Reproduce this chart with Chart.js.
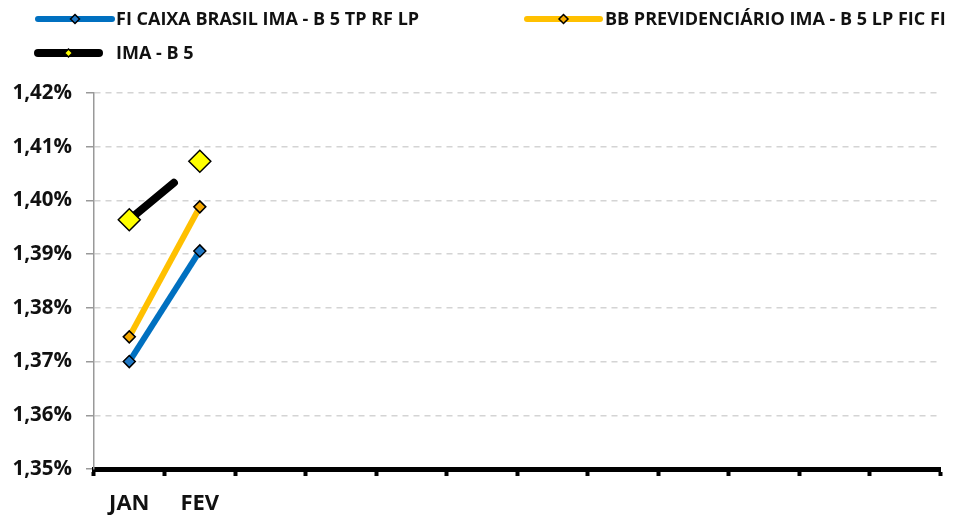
<!DOCTYPE html>
<html>
<head>
<meta charset="utf-8">
<script src="https://cdn.jsdelivr.net/npm/chart.js@4"></script>
<style>
  html, body { margin: 0; padding: 0; background: #fff; }
  #wrap { width: 953px; height: 515px; }
</style>
</head>
<body>
<div id="wrap"><canvas id="c"></canvas></div>
<script>
const months = ["JAN", "FEV", "", "", "", "", "", "", "", "", "", ""];
const caixa = [1.3700, 1.3906, null, null, null, null, null, null, null, null, null, null];
const bbPrev = [1.3746, 1.3988, null, null, null, null, null, null, null, null, null, null];
const imaB5 = [1.3964, 1.4073, null, null, null, null, null, null, null, null, null, null];
const yTicks = [1.35, 1.36, 1.37, 1.38, 1.39, 1.40, 1.41, 1.42];

const FONT = "'Open Sans'";

// legend drawn by hand: line with a diamond in the middle, like the spreadsheet one
const legendItems = [
  { ds: 0, x1: 38, x2: 112, y: 19, w: 6, r: 4.5, tx: 116 },
  { ds: 1, x1: 527, x2: 600, y: 19, w: 6, r: 4.5, tx: 605 },
  { ds: 2, x1: 38, x2: 99, y: 53, w: 8, r: 4, tx: 116 }
];

function diamond(ctx, x, y, r, fill) {
  ctx.beginPath();
  ctx.moveTo(x, y - r);
  ctx.lineTo(x + r, y);
  ctx.lineTo(x, y + r);
  ctx.lineTo(x - r, y);
  ctx.closePath();
  ctx.fillStyle = fill;
  ctx.fill();
  ctx.lineWidth = 1.5;
  ctx.strokeStyle = "#000";
  ctx.stroke();
}

const handLegend = {
  id: "handLegend",
  afterDraw(chart) {
    const ctx = chart.ctx;
    ctx.save();
    legendItems.forEach((it) => {
      const ds = chart.data.datasets[it.ds];
      ctx.beginPath();
      ctx.moveTo(it.x1, it.y);
      ctx.lineTo(it.x2, it.y);
      ctx.lineWidth = it.w;
      ctx.lineCap = "round";
      ctx.strokeStyle = ds.borderColor;
      ctx.stroke();
      diamond(ctx, (it.x1 + it.x2) / 2, it.y, it.r, ds.pointBackgroundColor);
      ctx.fillStyle = "#111";
      ctx.font = "bold 18px " + FONT;
      ctx.textBaseline = "middle";
      ctx.textAlign = "left";
      ctx.fillText(ds.label, it.tx, it.y + 1);
    });
    ctx.restore();
  }
};

new Chart(document.getElementById("c"), {
  type: "line",
  data: {
    labels: months,
    datasets: [
      {
        label: "FI CAIXA BRASIL IMA - B 5 TP RF LP",
        data: caixa,
        borderColor: "#0070C0",
        borderWidth: 6,
        pointStyle: "rectRot",
        pointRadius: 6,
        pointBackgroundColor: "#1F77C4",
        pointBorderColor: "#000",
        pointBorderWidth: 1.5
      },
      {
        label: "BB PREVIDENCIÁRIO IMA - B 5 LP FIC FI",
        data: bbPrev,
        borderColor: "#FFC000",
        borderWidth: 6,
        pointStyle: "rectRot",
        pointRadius: 6,
        pointBackgroundColor: "#F5A800",
        pointBorderColor: "#000",
        pointBorderWidth: 1.5
      },
      {
        label: "IMA - B 5",
        data: imaB5,
        borderColor: "#000",
        borderWidth: 8,
        borderCapStyle: "round",
        borderDash: [58, 400],
        pointStyle: "rectRot",
        pointRadius: 11,
        pointBackgroundColor: "#FFFF00",
        pointBorderColor: "#000",
        pointBorderWidth: 1.5
      }
    ]
  },
  options: {
    responsive: true,
    maintainAspectRatio: false,
    animation: false,
    layout: { padding: { top: 93, right: 7, left: 0, bottom: 0 } },
    plugins: {
      legend: { display: false },
      tooltip: { enabled: false }
    },
    scales: {
      x: {
        offset: true,
        grid: {
          offset: true,
          drawOnChartArea: false,
          drawTicks: true,
          tickLength: 7,
          tickColor: "#000",
          tickWidth: 4
        },
        border: { color: "#000", width: 5 },
        ticks: {
          autoSkip: false,
          maxRotation: 0,
          padding: 15,
          color: "#111",
          font: { family: FONT, size: 22, weight: "bold" }
        },
        afterFit(s) { s.height = 46; }
      },
      y: {
        min: 1.35,
        max: 1.42,
        afterBuildTicks(s) { s.ticks = yTicks.map((v) => ({ value: v })); },
        grid: {
          color: "#d4d4d4",
          lineWidth: 1.5,
          tickColor: "#999",
          tickLength: 8,
          tickBorderDash: []
        },
        border: { color: "#999", width: 1.5, dash: [6, 5] },
        ticks: {
          padding: 14,
          color: "#111",
          font: { family: FONT, size: 20.5, weight: "bold" },
          callback: (v) => v.toFixed(2).replace(".", ",") + "%"
        },
        afterFit(s) { s.width = 94; }
      }
    }
  },
  plugins: [handLegend]
});
</script>
</body>
</html>
